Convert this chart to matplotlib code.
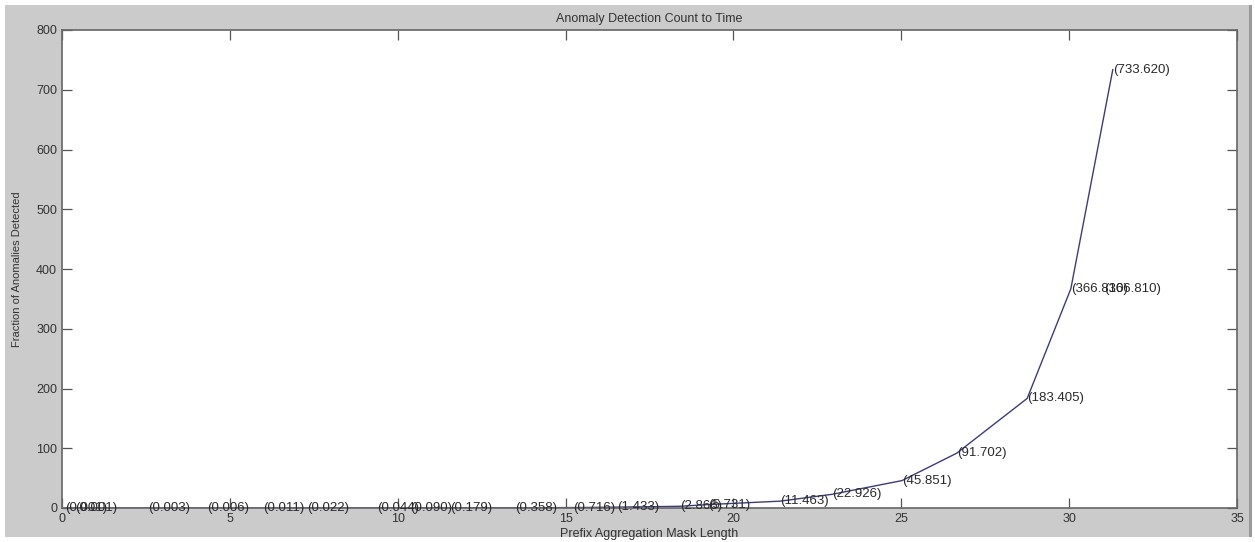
import matplotlib.pyplot as plt
from matplotlib.patches import Rectangle

# Mask length vs. anomaly count (line vertices)
mask_len = [0.1, 0.4, 2.56, 4.32, 5.99, 7.30, 9.38, 10.37, 11.56, 13.49, 15.22,
            16.53, 18.41, 19.24, 21.39, 22.94, 25.02, 26.65, 28.75, 30.05, 31.3]
counts = [0.001, 0.001, 0.003, 0.006, 0.011, 0.022, 0.044, 0.090, 0.179, 0.358,
          0.716, 1.433, 2.866, 5.731, 11.463, 22.926, 45.851, 91.702, 183.405,
          366.810, 733.620]

# extra value labels that sit off the line
extra_len = [31.05]
extra_counts = [366.810]

x_ticks = [0, 5, 10, 15, 20, 25, 30, 35]
y_ticks = [0, 100, 200, 300, 400, 500, 600, 700, 800]

plt.rcParams['font.family'] = ['Liberation Sans', 'DejaVu Sans']
txt_col = '#333333'

fig = plt.figure(figsize=(12.55, 5.42), dpi=100, facecolor='white')
# grey window background with a darker right edge
fig.add_artist(Rectangle((5 / 1255, 5 / 542), 1245 / 1255, 532 / 542,
                         transform=fig.transFigure, facecolor='#cbcbcb',
                         edgecolor='none', zorder=-2))
fig.add_artist(Rectangle((1249 / 1255, 5 / 542), 3 / 1255, 532 / 542,
                         transform=fig.transFigure, facecolor='#9a9a9a',
                         edgecolor='none', zorder=-2))

ax = fig.add_axes([62 / 1255, 34 / 542, 1175 / 1255, 478 / 542])
ax.set_zorder(1)
ax.set_facecolor('white')

ax.plot(mask_len, counts, color='#3b3b86', linewidth=1.0)

for x, y in zip(mask_len + extra_len, counts + extra_counts):
    ax.text(x, y, f"({y:.3f})", fontsize=9.5, color='#2a2a2a',
            ha='left', va='center')

ax.set_xlim(0, 35)
ax.set_ylim(0, 800)
ax.set_xticks(x_ticks)
ax.set_yticks(y_ticks)
ax.tick_params(direction='in', length=7, width=0.9, colors='#555555',
               labelcolor=txt_col, labelsize=9, top=True, right=True)
for sp in ax.spines.values():
    sp.set_color('#666666')
    sp.set_linewidth(1.2)

ax.set_title("Anomaly Detection Count to Time", fontsize=9, color=txt_col, pad=6)
ax.set_xlabel("Prefix Aggregation Mask Length", fontsize=9, color=txt_col, labelpad=2)
ax.set_ylabel("Fraction of Anomalies Detected", fontsize=8, color=txt_col, labelpad=10)

fig.savefig("out.png", dpi=100, facecolor=fig.get_facecolor())
